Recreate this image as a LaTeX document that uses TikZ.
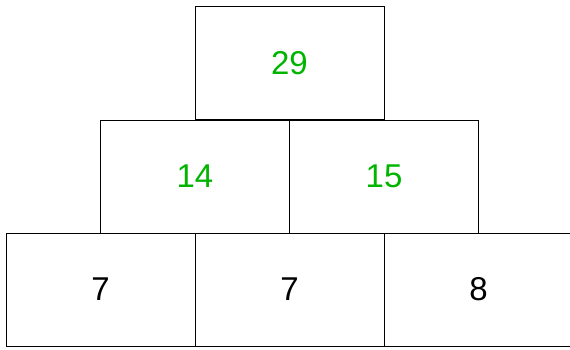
\documentclass[tikz,border=0pt]{standalone}
\usepackage{fontspec}
\setmainfont{Liberation Sans}
\usetikzlibrary{positioning}

\definecolor{sumgreen}{RGB}{0,180,0}

\tikzset{
  brick/.style={draw, rectangle, line width=1pt, minimum width=189pt, minimum height=113pt, inner sep=0pt, outer sep=0pt},
  sum/.style={text=sumgreen}
}

\begin{document}
\begin{tikzpicture}[x=1pt, y=1pt, every node/.style={font=\fontsize{33}{40}\selectfont}]
                \useasboundingbox (0,0) rectangle (570,349);
                \clip (0,0) rectangle (570,349);

                \node[brick] (b1) at (100.5,59.5) {7};
                \node[brick, right=0pt of b1] (b2) {7};
                \node[brick, right=0pt of b2] (b3) {8};

                \node[brick, sum] (m1) at (195,172.5) {14};
                \node[brick, sum, right=0pt of m1] (m2) {15};

                \node[brick, sum] (t1) at (289.5,286) {29};
            \end{tikzpicture}
\end{document}
